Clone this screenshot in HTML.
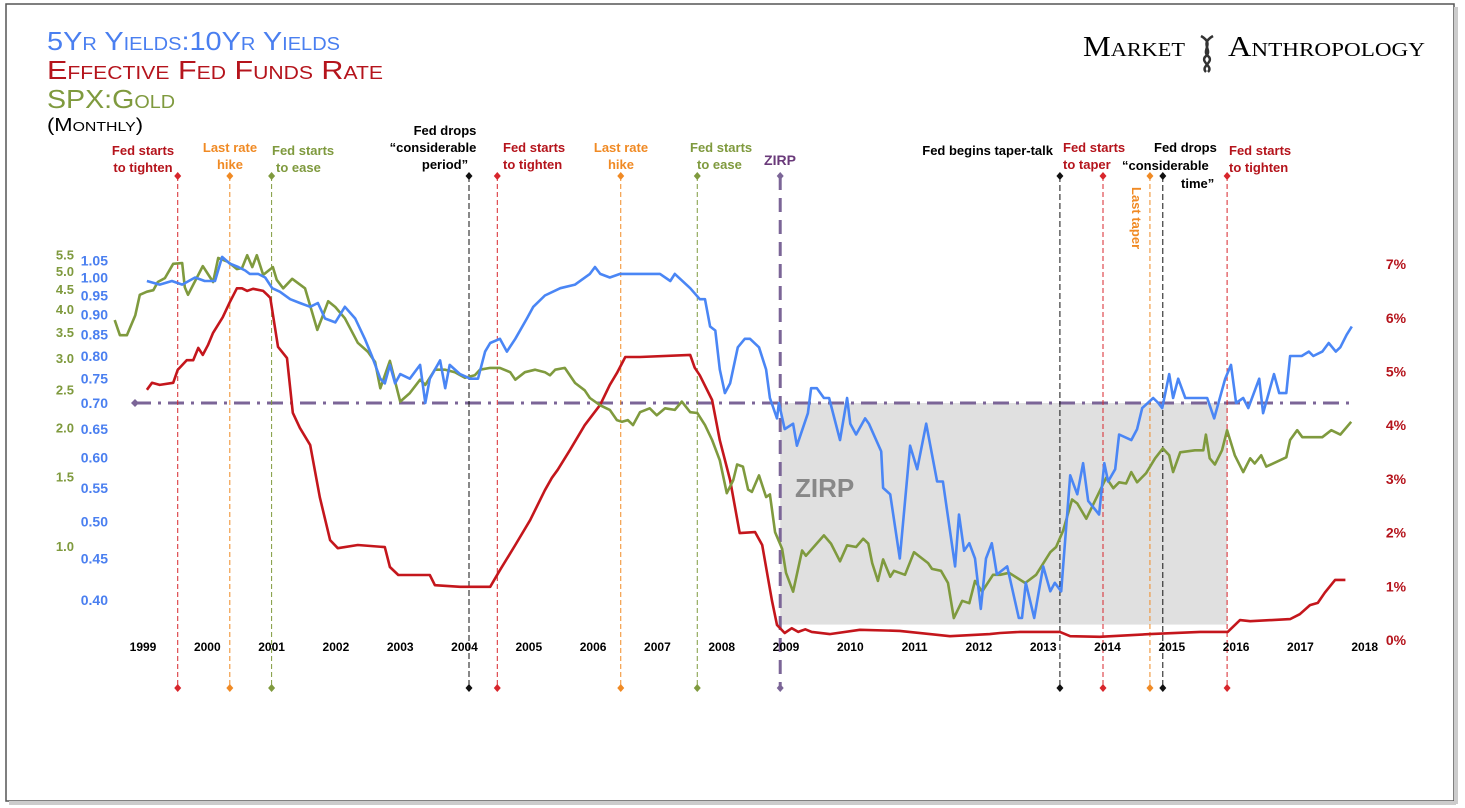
<!DOCTYPE html>
<html><head><meta charset="utf-8"><style>
html,body{margin:0;padding:0;background:#fff;}
svg{display:block;font-family:"Liberation Sans",sans-serif;}
.ann{font-size:13px;font-weight:bold;}
.sc{font-family:"Liberation Sans",sans-serif;font-variant:small-caps;}
</style></head><body>
<svg id="chart" width="1465" height="808" viewBox="0 0 1465 808">
<rect x="0" y="0" width="1465" height="808" fill="#fff"/>
<rect x="6" y="4" width="1448" height="797" fill="none" stroke="#555" stroke-width="1.5"/>
<rect x="9" y="801" width="1447" height="4" fill="#ccc"/>
<rect x="1454" y="7" width="4" height="797" fill="#ccc"/>
<g>
<text x="47" y="50" class="sc" font-size="26" fill="#4a7ff0" textLength="293" lengthAdjust="spacingAndGlyphs">5Yr Yields:10Yr Yields</text>
<text x="47" y="79" class="sc" font-size="26" fill="#b5141c" textLength="336" lengthAdjust="spacingAndGlyphs">Effective Fed Funds Rate</text>
<text x="47" y="108" class="sc" font-size="26" fill="#7f9a3e" textLength="128" lengthAdjust="spacingAndGlyphs">SPX:Gold</text>
<text x="47" y="131" class="sc" font-size="18" fill="#000" textLength="96" lengthAdjust="spacingAndGlyphs">(Monthly)</text>
</g>
<g>
<text x="1083" y="56" font-family="Liberation Serif,serif" font-variant="small-caps" font-size="28" fill="#000" textLength="102" lengthAdjust="spacingAndGlyphs">Market</text>
<path d="M1201,36 C1215,44 1201,50 1208,56 C1215,62 1200,66 1206,72 M1213,36 C1199,44 1213,50 1206,56 C1199,62 1214,66 1208,72" stroke="#333" stroke-width="2.5" fill="none"/>
<text x="1228" y="56" font-family="Liberation Serif,serif" font-variant="small-caps" font-size="28" fill="#000" textLength="197" lengthAdjust="spacingAndGlyphs">Anthropology</text>
</g>
<g id="zirp"></g>
<g id="events"></g>
<g id="axes"></g>
<g id="series"></g>
<g id="labels">
<g class="ann">
<text x="143" y="155" fill="#b5141c" text-anchor="middle"><tspan x="143">Fed starts</tspan><tspan x="143" dy="17">to tighten</tspan></text>
<text x="230" y="152" fill="#f08a24" text-anchor="middle"><tspan x="230">Last rate</tspan><tspan x="230" dy="17">hike</tspan></text>
<text x="272" y="155" fill="#7f9a3e"><tspan x="272">Fed starts</tspan><tspan x="276" dy="17">to ease</tspan></text>
<text x="445" y="135" fill="#000" text-anchor="middle"><tspan x="445">Fed drops</tspan><tspan x="433" dy="17">“considerable</tspan><tspan x="445" dy="17">period”</tspan></text>
<text x="503" y="152" fill="#b5141c"><tspan x="503">Fed starts</tspan><tspan x="503" dy="17">to tighten</tspan></text>
<text x="621" y="152" fill="#f08a24" text-anchor="middle"><tspan x="621">Last rate</tspan><tspan x="621" dy="17">hike</tspan></text>
<text x="690" y="152" fill="#7f9a3e"><tspan x="690">Fed starts</tspan><tspan x="697" dy="17">to ease</tspan></text>
<text x="780" y="165" fill="#6a3a7a" text-anchor="middle" font-size="14">ZIRP</text>
<text x="1053" y="155" fill="#000" text-anchor="end">Fed begins taper-talk</text>
<text x="1063" y="152" fill="#b5141c"><tspan x="1063">Fed starts</tspan><tspan x="1063" dy="17">to taper</tspan></text>
<text x="1152" y="152" fill="#000"><tspan x="1154">Fed drops</tspan><tspan x="1122" dy="18">“considerable</tspan><tspan x="1181" dy="18">time”</tspan></text>
<text x="1229" y="155" fill="#b5141c"><tspan x="1229">Fed starts</tspan><tspan x="1229" dy="17">to tighten</tspan></text>
<text transform="translate(1132,187) rotate(90)" fill="#f08a24">Last taper</text>
</g>
<text x="795" y="497" font-size="26" font-weight="bold" fill="#888">ZIRP</text>
</g>
</svg>
<script>
// ---- data ----
const yearTicks = [1999,2000,2001,2002,2003,2004,2005,2006,2007,2008,2009,2010,2011,2012,2013,2014,2015,2016,2017,2018];
const blueTicks = [1.05,1.00,0.95,0.90,0.85,0.80,0.75,0.70,0.65,0.60,0.55,0.50,0.45,0.40];
const greenTicks = [5.5,5.0,4.5,4.0,3.5,3.0,2.5,2.0,1.5,1.0];
const redTicks = [0,1,2,3,4,5,6,7];
const blueT = [1999.06,1999.26,1999.45,1999.61,1999.81,1999.96,2000.12,2000.23,2000.35,2000.48,2000.59,2000.66,2000.79,2000.90,2001.01,2001.13,2001.29,2001.44,2001.60,2001.72,2001.83,2001.99,2002.14,2002.30,2002.45,2002.56,2002.69,2002.76,2002.84,2002.92,2003.00,2003.15,2003.31,2003.39,2003.46,2003.62,2003.70,2003.77,2003.93,2004.09,2004.21,2004.32,2004.40,2004.55,2004.66,2004.79,2004.97,2005.07,2005.25,2005.49,2005.72,2005.95,2006.03,2006.11,2006.26,2006.42,2006.73,2007.04,2007.20,2007.27,2007.51,2007.66,2007.74,2007.82,2007.90,2007.97,2008.05,2008.13,2008.25,2008.36,2008.44,2008.58,2008.69,2008.75,2008.86,2008.89,2008.98,2009.11,2009.17,2009.34,2009.39,2009.48,2009.59,2009.67,2009.84,2009.95,2010.00,2010.09,2010.23,2010.29,2010.48,2010.51,2010.62,2010.77,2010.93,2011.04,2011.18,2011.35,2011.44,2011.63,2011.69,2011.77,2011.85,2011.94,2012.03,2012.11,2012.20,2012.28,2012.44,2012.62,2012.67,2012.73,2012.86,2013.00,2013.11,2013.18,2013.28,2013.42,2013.53,2013.62,2013.70,2013.87,2013.95,2014.01,2014.12,2014.18,2014.37,2014.46,2014.54,2014.71,2014.79,2014.85,2014.96,2015.02,2015.10,2015.21,2015.35,2015.55,2015.66,2015.83,2015.92,2016.00,2016.11,2016.19,2016.36,2016.42,2016.59,2016.67,2016.78,2016.84,2016.92,2017.02,2017.13,2017.20,2017.34,2017.44,2017.55,2017.62,2017.72,2017.80];
const blueV = [.99,.98,.99,.98,1.00,.99,.99,1.06,1.04,1.03,1.02,1.01,1.01,1.00,.97,.96,.94,.93,.92,.93,.89,.88,.92,.89,.84,.80,.75,.74,.78,.74,.76,.75,.78,.70,.75,.79,.73,.78,.76,.75,.75,.81,.83,.84,.81,.84,.89,.92,.95,.97,.98,1.01,1.03,1.01,1.00,1.01,1.01,1.01,.99,1.01,.97,.94,.94,.87,.86,.77,.72,.74,.82,.84,.84,.82,.77,.71,.67,.70,.65,.66,.62,.68,.73,.73,.71,.71,.63,.71,.66,.64,.67,.66,.61,.55,.54,.45,.62,.58,.66,.56,.56,.44,.51,.46,.47,.45,.39,.45,.47,.43,.44,.38,.38,.42,.38,.44,.41,.42,.41,.57,.54,.59,.53,.51,.59,.56,.58,.64,.63,.65,.69,.71,.70,.69,.76,.71,.75,.71,.71,.71,.67,.75,.78,.70,.71,.69,.75,.68,.76,.72,.72,.80,.80,.80,.81,.80,.81,.83,.81,.82,.85,.87];
const greenT = [1998.56,1998.64,1998.75,1998.88,1998.95,1999.06,1999.16,1999.23,1999.34,1999.47,1999.61,1999.65,1999.70,1999.93,2000.09,2000.17,2000.32,2000.46,2000.54,2000.62,2000.70,2000.77,2000.87,2001.02,2001.08,2001.18,2001.32,2001.52,2001.71,2001.78,2001.88,2001.99,2002.14,2002.34,2002.50,2002.61,2002.69,2002.84,2003.00,2003.15,2003.31,2003.39,2003.54,2003.70,2003.85,2004.01,2004.16,2004.24,2004.40,2004.55,2004.71,2004.79,2004.94,2005.10,2005.25,2005.33,2005.41,2005.56,2005.72,2005.87,2005.95,2006.11,2006.26,2006.37,2006.45,2006.54,2006.62,2006.73,2006.88,2006.99,2007.12,2007.27,2007.38,2007.51,2007.62,2007.74,2007.85,2007.97,2008.08,2008.18,2008.24,2008.33,2008.41,2008.47,2008.58,2008.69,2008.75,2008.83,2008.94,2009.00,2009.11,2009.25,2009.31,2009.59,2009.70,2009.84,2009.95,2010.09,2010.20,2010.28,2010.34,2010.43,2010.51,2010.62,2010.68,2010.85,2010.99,2011.21,2011.27,2011.41,2011.52,2011.61,2011.74,2011.85,2011.94,2012.05,2012.22,2012.33,2012.47,2012.72,2012.89,2013.11,2013.20,2013.31,2013.45,2013.53,2013.67,2013.98,2014.09,2014.18,2014.29,2014.37,2014.46,2014.60,2014.74,2014.86,2014.96,2015.02,2015.13,2015.36,2015.49,2015.53,2015.59,2015.67,2015.78,2015.86,2015.98,2016.11,2016.22,2016.29,2016.39,2016.47,2016.78,2016.84,2016.95,2017.03,2017.34,2017.48,2017.62,2017.79];
const greenV = [3.77,3.45,3.45,3.88,4.37,4.45,4.49,4.71,4.82,5.24,5.26,4.57,4.37,5.17,4.71,5.42,5.30,5.08,5.11,5.51,5.14,5.51,4.91,5.14,4.77,4.54,4.80,4.54,3.56,3.81,4.21,4.07,3.81,3.30,3.13,2.95,2.53,2.97,2.34,2.46,2.66,2.58,2.82,2.82,2.78,2.69,2.73,2.82,2.85,2.85,2.78,2.66,2.78,2.82,2.78,2.73,2.82,2.85,2.61,2.50,2.39,2.29,2.23,2.10,2.08,2.10,2.04,2.20,2.25,2.16,2.25,2.23,2.34,2.20,2.19,2.04,1.87,1.66,1.37,1.48,1.62,1.60,1.40,1.38,1.52,1.34,1.36,1.09,.99,.86,.77,.98,.95,1.07,1.02,.92,1.01,1.00,1.05,1.02,.91,.82,.93,.84,.87,.85,.97,.91,.88,.87,.81,.66,.73,.72,.82,.77,.85,.85,.86,.81,.85,.97,1.00,1.10,1.32,1.29,1.18,1.50,1.41,1.46,1.45,1.55,1.46,1.54,1.68,1.78,1.71,1.55,1.74,1.76,1.76,1.93,1.68,1.62,1.76,1.98,1.71,1.55,1.68,1.63,1.71,1.60,1.69,1.87,1.98,1.90,1.90,1.98,1.93,2.08];
const redT = [1999.06,1999.14,1999.26,1999.47,1999.54,1999.68,1999.78,1999.86,1999.93,2000.01,2000.09,2000.24,2000.35,2000.46,2000.54,2000.62,2000.71,2000.87,2000.94,2000.98,2001.10,2001.24,2001.33,2001.44,2001.60,2001.75,2001.91,2002.03,2002.34,2002.76,2002.84,2002.97,2003.15,2003.46,2003.54,2003.93,2004.40,2004.55,2004.79,2005.02,2005.25,2005.36,2005.45,2005.64,2005.87,2006.11,2006.26,2006.37,2006.50,2006.73,2007.51,2007.58,2007.66,2007.85,2007.97,2008.13,2008.28,2008.52,2008.63,2008.72,2008.78,2008.86,2008.98,2009.09,2009.19,2009.30,2009.40,2009.68,2010.15,2010.77,2011.55,2012.17,2012.33,2012.64,2013.26,2013.42,2013.88,2014.66,2015.44,2015.87,2016.06,2016.22,2016.84,2016.99,2017.15,2017.27,2017.38,2017.54,2017.70];
const redV = [4.66,4.79,4.75,4.79,5.03,5.21,5.21,5.44,5.31,5.49,5.72,6.01,6.29,6.55,6.55,6.50,6.54,6.50,6.42,6.37,5.46,5.25,4.23,3.95,3.63,2.66,1.86,1.71,1.77,1.73,1.36,1.21,1.21,1.21,1.02,.99,.99,1.30,1.77,2.23,2.79,3.02,3.17,3.54,4.00,4.38,4.75,4.97,5.27,5.27,5.31,5.07,4.93,4.47,3.72,2.98,1.99,2.01,1.77,1.15,.74,.28,.13,.22,.15,.20,.15,.11,.19,.17,.07,.11,.13,.15,.15,.07,.06,.11,.15,.15,.37,.35,.39,.48,.65,.69,.88,1.12,1.12];
const eventDates = [1999.54,2000.35,2001.0,2004.07,2004.51,2006.43,2007.62,2008.91,2013.26,2013.93,2014.66,2014.86,2015.86];
const eventKinds = ['tighten','hike','ease','drops','tighten','hike','ease','zirp','taper-talk','taper','last-taper','drops','tighten'];
const zirpLevel = 0.70;
const zirpBoxStart = 2008.91, zirpBoxEnd = 2015.86, zirpBoxLow = 0.373;

// ---- scales ----
const X = t => 143 + (t - 1999) * 64.3;
const YB = v => 403 - 352 * Math.log(v / 0.7);
const YG = v => 547 - 171 * Math.log(v);
const YR = p => 640 - 53.7 * p;
const NS = 'http://www.w3.org/2000/svg';
function mk(tag, attrs, parent){const e=document.createElementNS(NS,tag);for(const k in attrs)e.setAttribute(k,attrs[k]);parent.appendChild(e);return e;}
const kindColor = {tighten:'#d8262c',hike:'#f08a24',ease:'#7f9a3e',drops:'#111','taper-talk':'#111',taper:'#d8262c','last-taper':'#f08a24',zirp:'#7b6597'};

const gz = document.getElementById('zirp');
const box = mk('rect',{x:X(zirpBoxStart),y:YB(zirpLevel),width:X(zirpBoxEnd)-X(zirpBoxStart),height:YB(zirpBoxLow)-YB(zirpLevel),fill:'#e0e0e0'},gz);



const ge = document.getElementById('events');
eventDates.forEach((d,i)=>{
  const k = eventKinds[i], c = kindColor[k], x = X(d);
  const isZ = k==='zirp';
  const ln = mk('line',{x1:x,y1:176,x2:x,y2:688,stroke:c,'stroke-width':isZ?3:1,'stroke-dasharray':isZ?'14,8':(k==='drops'||k==='taper-talk'?'6,3':'5,3')},ge);
  
  
  [176,688].forEach(y=>{
    const dm = mk('path',{d:`M${x},${y-4}L${x+3.5},${y}L${x},${y+4}L${x-3.5},${y}Z`,fill:c},ge);
    
    
  });
});
const hz = mk('line',{x1:135,y1:YB(zirpLevel),x2:1352,y2:YB(zirpLevel),stroke:'#7b6597','stroke-width':3,'stroke-dasharray':'16,7,3,7'},gz);


const hd = mk('path',{d:`M131,${YB(zirpLevel)}L135,${YB(zirpLevel)-4}L139,${YB(zirpLevel)}L135,${YB(zirpLevel)+4}Z`,fill:'#7b6597'},gz);



const ga = document.getElementById('axes');
yearTicks.forEach(y=>{
  const t = mk('text',{x:X(y),y:651,'text-anchor':'middle','font-size':12,'font-weight':'bold',fill:'#000'},ga);
  t.textContent = y;
  
  
});
blueTicks.forEach(v=>{
  const t = mk('text',{x:108,y:YB(v)+5,'text-anchor':'end','font-size':14,'font-weight':'bold',fill:'#4a7ff0'},ga);
  t.textContent = v.toFixed(2);
  
  
});
greenTicks.forEach(v=>{
  const t = mk('text',{x:74,y:YG(v)+4,'text-anchor':'end','font-size':13,'font-weight':'bold',fill:'#7f9a3e'},ga);
  t.textContent = v.toFixed(1);
  
  
});
redTicks.forEach(p=>{
  const t = mk('text',{x:1396,y:YR(p)+5,'text-anchor':'middle','font-size':14,'font-weight':'bold',fill:'#b5141c'},ga);
  t.textContent = p + '%';
  
  
});

const gs = document.getElementById('series');
function line(T,V,Y,color,name){
  const d = T.map((t,i)=>(i?'L':'M')+X(t).toFixed(1)+','+Y(V[i]).toFixed(1)).join('');
  const p = mk('path',{d:d,fill:'none',stroke:color,'stroke-width':2.6,'stroke-linejoin':'round'},gs);
  
  
}
line(redT,redV,YR,'#c4161c','fed-funds-line');
line(greenT,greenV,YG,'#7f9a3e','spx-gold-line');
line(blueT,blueV,YB,'#4a86f5','yield-ratio-line');
</script>
</body></html>
